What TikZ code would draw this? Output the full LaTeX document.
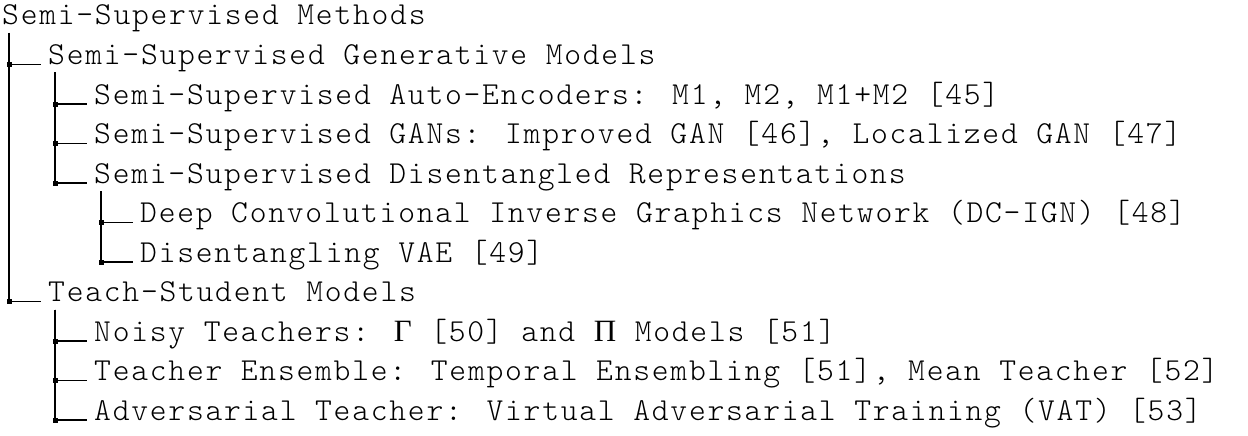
\documentclass[tikz,border=0pt]{standalone}
\usepackage{fontspec}
\newfontfamily\entryfont{Latin Modern Mono Light}[LetterSpace=5.5]
\newfontfamily\greekfont{Liberation Serif}
\begin{document}
\begin{tikzpicture}[x=1pt,y=-1pt,
  entry/.style={anchor=base west,inner sep=0pt,
    font=\entryfont\fontsize{32}{38}\selectfont},
  branch/.style={line width=1.4pt,black},
  jn/.style={rectangle,fill=black,inner sep=0pt,minimum size=5pt}]
\useasboundingbox (0,0) rectangle (1248,436);
% tree entries
\node[entry] (root) at (2,25)    {Semi-Supervised Methods};
\node[entry] (gen)  at (48,64.5) {Semi-Supervised Generative Models};
\node[entry] (ae)   at (94,104)  {Semi-Supervised Auto-Encoders: M1, M2, M1+M2 [45]};
\node[entry] (gan)  at (94,143.5){Semi-Supervised GANs: Improved GAN [46], Localized GAN [47]};
\node[entry] (dis)  at (94,183)  {Semi-Supervised Disentangled Representations};
\node[entry] (dcign) at (140,222.5){Deep Convolutional Inverse Graphics Network (DC-IGN) [48]};
\node[entry] (dvae) at (140,262) {Disentangling VAE [49]};
\node[entry] (ts)   at (48,301.5){Teach-Student Models};
\node[entry] (noisy) at (94,341) {Noisy Teachers: {\greekfont\fontsize{31}{38}\selectfont Γ} [50] and {\greekfont\fontsize{31}{38}\selectfont Π} Models [51]};
\node[entry] (ens)  at (94,380.5){Teacher Ensemble: Temporal Ensembling [51], Mean Teacher [52]};
\node[entry] (adv)  at (94,420)  {Adversarial Teacher: Virtual Adversarial Training (VAT) [53]};
% branches: vertical rule under each parent, elbow to each child
\foreach \p/\c in {root/gen, root/ts, gen/ae, gen/gan, gen/dis,
                   dis/dcign, dis/dvae, ts/noisy, ts/ens, ts/adv}
  \draw[branch] ([xshift=7pt,yshift=-8pt]\p.base west)
    |- node[jn]{} ([xshift=-7pt]\c.base west);
\end{tikzpicture}
\end{document}
